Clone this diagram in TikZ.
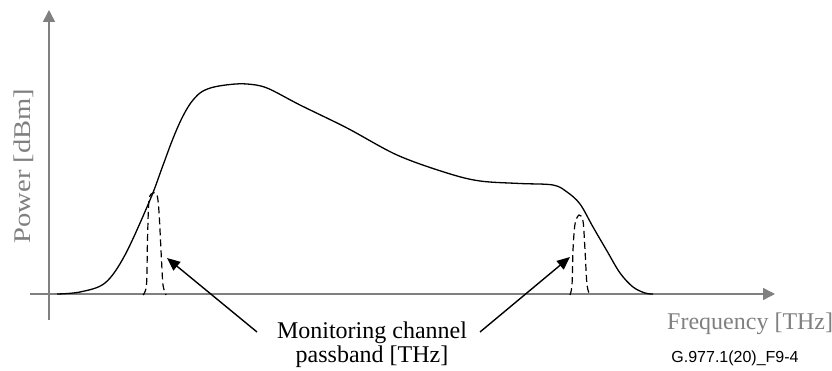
\documentclass[tikz,border=0pt]{standalone}
\usepackage{fontspec}
\setmainfont{Liberation Serif}
\newfontfamily\arialfont{Liberation Sans}
\usetikzlibrary{arrows.meta}
\definecolor{axisgray}{RGB}{128,128,128}
\begin{document}
\begin{tikzpicture}[x=1pt,y=-1pt,
  axisline/.style={draw=axisgray,line width=1.5pt,-{Triangle[length=12pt,width=12pt]}},
  spectrum/.style={line width=1.3pt,black},
  passband/.style={line width=1.2pt,black,dash pattern=on 7pt off 4pt},
  pointer/.style={line width=1.4pt,black,-{Triangle[length=13pt,width=11pt]}},
  graylabel/.style={text=axisgray,inner sep=0pt,font=\fontsize{24}{25}\selectfont},
  blacklabel/.style={text=black,inner sep=0pt,font=\fontsize{24}{25}\selectfont},
  refcode/.style={text=black,inner sep=0pt,font=\arialfont\fontsize{16}{18}\selectfont}]
\useasboundingbox (0,0) rectangle (832,371);
% axes
\coordinate (yb) at (49,320);
\coordinate (yt) at (49,10);
\coordinate (xl) at (30,294);
\coordinate (xr) at (775,294);
\draw[axisline] (yb) -- (yt);
\draw[axisline] (xl) -- (xr);
% spectrum
\draw[spectrum] plot[smooth,tension=0.55] coordinates {
 (57,294) (80,292) (105,283) (125,255) (150,200) (162,168) (172,141) (181,120)
 (190,104) (200,93) (212,87.5) (230,84.5) (247,84) (267,88) (300,105) (347,128)
 (397,155) (447,173) (480,181) (520,183.5) (553,185) (567,192) (580,204)
 (593,227) (607,251) (620,273) (633,287) (645,293) (653,294)};
% passbands
\draw[passband] plot[smooth,tension=0.5] coordinates {
 (143,295) (146.5,285) (147.5,240) (149,200) (153,193) (157,195) (159,212)
 (161.5,260) (163,285) (166,295)};
\draw[passband] plot[smooth,tension=0.5] coordinates {
 (570,295) (572,285) (573,250) (575,224) (579,215) (583,221) (585,250)
 (587,285) (590,295)};
% pointer arrows
\coordinate (la) at (257,332);
\coordinate (lt) at (167,258);
\coordinate (ra) at (480,332);
\coordinate (rt) at (570,257);
\draw[pointer] (la) -- (lt);
\draw[pointer] (ra) -- (rt);
% labels
\node[blacklabel,anchor=base] (mon) at (372,338) {Monitoring channel};
\node[blacklabel,anchor=base] (pb) at (372,362) {passband [THz]};
\node[graylabel,anchor=base west] (freq) at (667,329) {Frequency [THz]};
\node[graylabel,rotate=90] (pow) at (24,166) {\scalebox{1.19}[1]{Power [dBm]}};
\node[refcode,anchor=base] (code) at (735,362) {G.977.1(20)\_F9-4};
\end{tikzpicture}
\end{document}
